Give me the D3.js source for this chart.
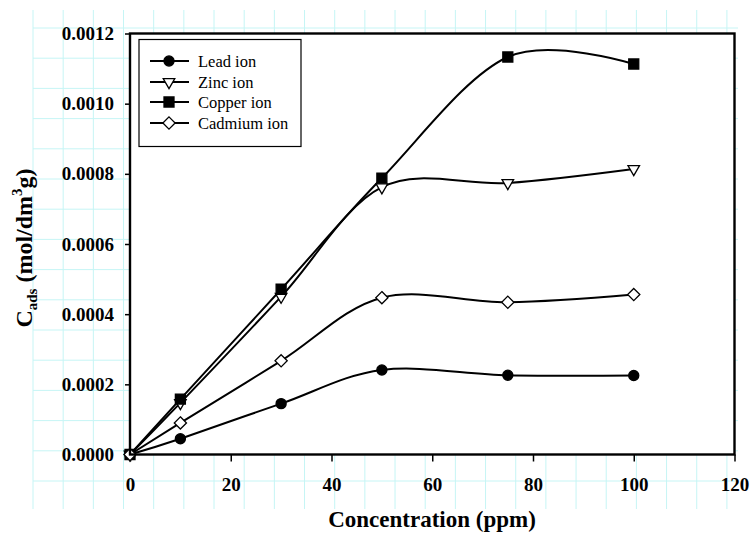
<!DOCTYPE html>
<html><head><meta charset="utf-8">
<script src="https://cdn.jsdelivr.net/npm/d3@7"></script>
<style>body{margin:0;background:#fff}svg{display:block}
.serif{font-family:"Liberation Serif","Times New Roman",serif}</style>
</head><body>
<svg id="c" width="750" height="533"></svg>
<script>
// ---- data ----
const concentrations = [0, 10, 30, 50, 75, 100];
const leadIon    = [0, 0.000045, 0.000145, 0.000241, 0.000226, 0.000225];
const zincIon    = [0, 0.000147, 0.000450, 0.000762, 0.000774, 0.000814];
const copperIon  = [0, 0.000158, 0.000471, 0.000788, 0.001133, 0.001113];
const cadmiumIon = [0, 0.000090, 0.000267, 0.000447, 0.000434, 0.000456];
const seriesNames = ["Lead ion", "Zinc ion", "Copper ion", "Cadmium ion"];
const xTickValues = [0, 20, 40, 60, 80, 100, 120];
const yTickValues = [0, 0.0002, 0.0004, 0.0006, 0.0008, 0.0010, 0.0012];

// ---- layout ----
const svg = d3.select("#c");
const L = 130, R = 734.5, T = 33.5, B = 454.5;
const x = d3.scaleLinear().domain([0, 120]).range([L, R]);
const y = d3.scaleLinear().domain([0, 0.0012]).range([B, T]);

// decorative background grid (drawing canvas)
const gridColor = "#c6f5f5";
const grid = svg.append("g").attr("stroke", gridColor).attr("stroke-width", 1);
d3.range(0, 24).forEach(k => {
  const gx = 33 + 30.17 * k;
  grid.append("line").attr("x1", gx).attr("x2", gx).attr("y1", 10).attr("y2", 509);
});
d3.range(0, 16).forEach(k => {
  const gy = 28 + 30.2 * k;
  grid.append("line").attr("x1", 33).attr("x2", 738).attr("y1", gy).attr("y2", gy);
});

// plot area
svg.append("rect").attr("x", L).attr("y", T).attr("width", R - L).attr("height", B - T)
  .attr("fill", "#fff");

const serif = '"Liberation Serif", "Times New Roman", serif';

// axes
const xAxis = svg.append("g").attr("transform", `translate(0,${B})`)
  .call(d3.axisBottom(x).tickValues(xTickValues).tickSize(7).tickPadding(16).tickFormat(d3.format("d")));
const yAxis = svg.append("g").attr("transform", `translate(${L},0)`)
  .call(d3.axisLeft(y).tickValues(yTickValues).tickSize(5).tickPadding(11).tickFormat(d3.format(".4f")));
[xAxis, yAxis].forEach(a => {
  a.attr("font-family", null).attr("font-size", null);
  a.select(".domain").remove();
  a.selectAll(".tick line").attr("stroke", "#000").attr("stroke-width", 1.5);
  a.selectAll(".tick text").attr("class", "serif")
    .style("font-family", serif).style("font-weight", "bold")
    .style("font-size", "19px").attr("fill", "#000");
});

// series
const data = [leadIon, zincIon, copperIon, cadmiumIon].map((vals, i) => ({
  name: seriesNames[i],
  pts: concentrations.map((c, j) => [c, vals[j]])
}));
const symTypes = [d3.symbolCircle, d3.symbolTriangle, d3.symbolSquare, d3.symbolDiamond2];
const symSizes = [80, 58, 100, 95];
const symFill = ["#000", "#fff", "#000", "#fff"];
const symRot = [0, 180, 0, 0];

const line = d3.line().x(d => x(d[0])).y(d => y(d[1])).curve(d3.curveCardinal.tension(0));
const lines = svg.append("g");
data.forEach(s => {
  lines.append("path").attr("d", line(s.pts)).attr("fill", "none")
    .attr("stroke", "#000").attr("stroke-width", 2);
});
const marks = svg.append("g");
[0, 1, 2, 3].forEach(i => {
  const sym = d3.symbol().type(symTypes[i]).size(symSizes[i]);
  marks.selectAll(null).data(data[i].pts).join("path")
    .attr("d", sym)
    .attr("transform", d => `translate(${x(d[0])},${y(d[1])}) rotate(${symRot[i]})`)
    .attr("fill", symFill[i]).attr("stroke", "#000").attr("stroke-width", 1.3);
});

// frame
svg.append("rect").attr("x", L).attr("y", T).attr("width", R - L).attr("height", B - T)
  .attr("fill", "none").attr("stroke", "#000").attr("stroke-width", 2.4);

// legend
const lg = svg.append("g");
lg.append("rect").attr("x", 139).attr("y", 39.5).attr("width", 162).attr("height", 107)
  .attr("fill", "#fff").attr("stroke", "#000").attr("stroke-width", 1.2);
const legY = [61, 82, 102, 123];
seriesNames.forEach((n, i) => {
  const g = lg.append("g").attr("transform", `translate(0,${legY[i]})`);
  g.append("line").attr("x1", 150).attr("x2", 189).attr("stroke", "#000").attr("stroke-width", 2);
  g.append("path").attr("d", d3.symbol().type(symTypes[i]).size(symSizes[i]))
    .attr("transform", `translate(169,0) rotate(${symRot[i]})`)
    .attr("fill", symFill[i]).attr("stroke", "#000").attr("stroke-width", 1.3);
  g.append("text").attr("x", 198).attr("dy", "0.35em").text(n)
    .style("font-family", serif).style("font-size", "16.5px").attr("fill", "#000");
});

// axis titles
svg.append("text").attr("x", 432).attr("y", 527).attr("text-anchor", "middle")
  .style("font-family", serif).style("font-weight", "bold").style("font-size", "23px")
  .text("Concentration (ppm)");

const yt = svg.append("text").attr("transform", "translate(32,248) rotate(-90)")
  .attr("text-anchor", "middle").style("font-family", serif).style("font-weight", "bold")
  .style("font-size", "24px");
yt.append("tspan").text("C");
yt.append("tspan").style("font-size", "15px").attr("dy", 5).text("ads");
yt.append("tspan").attr("dy", -5).text(" (mol/dm");
yt.append("tspan").style("font-size", "15px").attr("dy", -10).text("3");
yt.append("tspan").attr("dy", 10).text("g)");
</script>
</body></html>
